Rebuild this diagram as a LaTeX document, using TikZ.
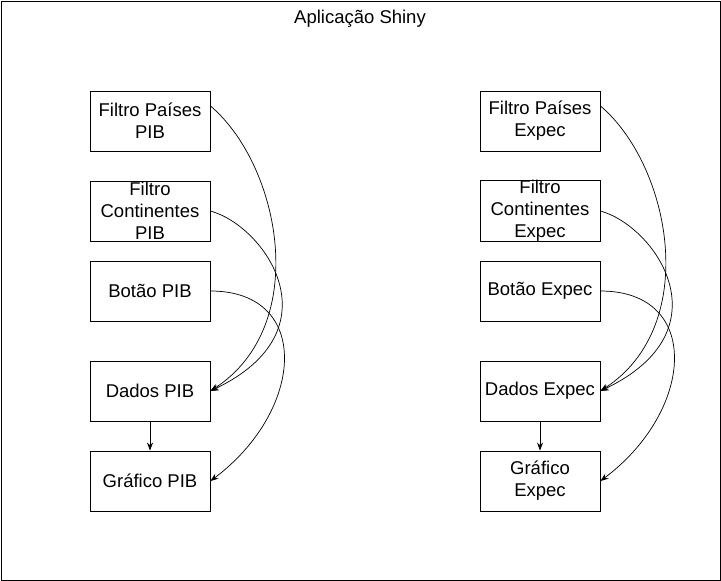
\documentclass[tikz,border=0pt]{standalone}
\usepackage{fontspec}
\setmainfont{Liberation Sans}
\usetikzlibrary{arrows.meta}

\begin{document}
\begin{tikzpicture}[
    x=1pt, y=-1pt,
    >={Stealth[length=8pt, width=6pt]},
    % Styles for the components
    box/.style={rectangle, draw=black, line width=0.9pt, minimum width=120pt, minimum height=60pt,
                inner sep=0pt, align=center, font=\fontsize{18.5}{22}\selectfont},
    link/.style={->, line width=0.7pt}
]
    \useasboundingbox (0,0) rectangle (721,581);

    % =========================================================================
    % 1. THE CONTAINER
    % =========================================================================
    \node[draw, line width=0.9pt, minimum width=719pt, minimum height=579pt, inner sep=0pt] (app) at (360.5,290.5) {};
    \node[font=\fontsize{18.5}{22}\selectfont] (titulo) at (360,19) {Aplicação Shiny};

    % =========================================================================
    % 2. LEFT COLUMN: PIB
    % =========================================================================
    \node[box] (paisesPIB) at (150,121) {Filtro Países\\PIB};
    \node[box] (contPIB) at (150,211) {Filtro\\Continentes\\PIB};
    \node[box] (botaoPIB) at (150,291) {Botão PIB};
    \node[box] (dadosPIB) at (150,391) {Dados PIB};
    \node[box] (graficoPIB) at (150,481) {Gráfico PIB};

    \draw[link] (dadosPIB) -- (graficoPIB);
    \draw[link] (paisesPIB.14) .. controls (280,165) and (312,325) .. (dadosPIB.east);
    \draw[link] (contPIB.east) .. controls (265,226) and (338,330) .. (dadosPIB.east);
    \draw[link] (botaoPIB.east) .. controls (312,291) and (305,410) .. (graficoPIB.east);

    % =========================================================================
    % 3. RIGHT COLUMN: EXPEC
    % =========================================================================
    \node[box] (paisesExpec) at (540,121) {Filtro Países\\Expec};
    \node[box] (contExpec) at (540,211) {Filtro\\Continentes\\Expec};
    \node[box] (botaoExpec) at (540,291) {Botão Expec};
    \node[box] (dadosExpec) at (540,391) {Dados Expec};
    \node[box] (graficoExpec) at (540,481) {Gráfico\\Expec};

    \draw[link] (dadosExpec) -- (graficoExpec);
    \draw[link] (paisesExpec.14) .. controls (670,165) and (702,325) .. (dadosExpec.east);
    \draw[link] (contExpec.east) .. controls (655,226) and (728,330) .. (dadosExpec.east);
    \draw[link] (botaoExpec.east) .. controls (702,291) and (695,410) .. (graficoExpec.east);

\end{tikzpicture}
\end{document}
